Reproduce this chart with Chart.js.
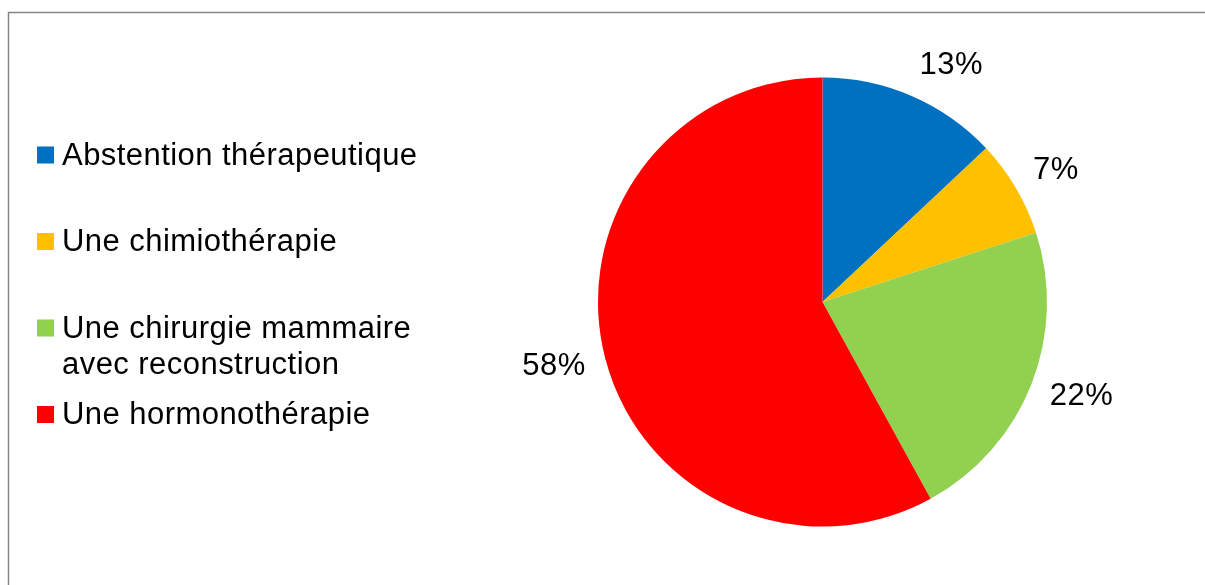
<!DOCTYPE html>
<html>
<head>
<meta charset="utf-8">
<script src="https://cdn.jsdelivr.net/npm/chart.js@4"></script>
<style>
  html, body { margin: 0; padding: 0; background: #fff; }
  #chart { display: block; }
</style>
</head>
<body>
<canvas id="chart" width="1205" height="585"></canvas>
<script>
const categories = [
  'Abstention thérapeutique',
  'Une chimiothérapie',
  ['Une chirurgie mammaire', 'avec reconstruction'],
  'Une hormonothérapie'
];
const shares = [13, 7, 22, 58];
const sliceColors = ['#0070C0', '#FFC000', '#92D050', '#FF0000'];

const FONT = '31px "Liberation Sans", Arial, sans-serif';
const SPACING = '0.45px';

// frame lines (top and left edge of the chart box)
const framePlugin = {
  id: 'frame',
  beforeDraw(chart) {
    const ctx = chart.ctx;
    ctx.save();
    ctx.strokeStyle = '#868686';
    ctx.lineWidth = 1.5;
    ctx.beginPath();
    ctx.moveTo(8.5, chart.height);
    ctx.lineTo(8.5, 12.5);
    ctx.lineTo(chart.width, 12.5);
    ctx.stroke();
    ctx.restore();
  }
};

// legend on the left, squares + wrapped text
const sideLegend = {
  id: 'sideLegend',
  afterDraw(chart, args, opts) {
    const ctx = chart.ctx;
    const ds = chart.data.datasets[0];
    ctx.save();
    ctx.font = FONT;
    ctx.letterSpacing = SPACING;
    ctx.textBaseline = 'middle';
    chart.data.labels.forEach((label, i) => {
      const y = opts.top + i * opts.step;
      ctx.fillStyle = ds.backgroundColor[i];
      ctx.fillRect(opts.x, y - opts.box / 2, opts.box, opts.box);
      ctx.fillStyle = '#000';
      const lines = Array.isArray(label) ? label : [label];
      lines.forEach((line, j) => {
        ctx.fillText(line, opts.x + opts.box + 8, y + 1 + j * opts.lineHeight);
      });
    });
    ctx.restore();
  }
};

// percentage labels just outside each slice
const outsideLabels = {
  id: 'outsideLabels',
  afterDatasetsDraw(chart, args, opts) {
    const ctx = chart.ctx;
    const meta = chart.getDatasetMeta(0);
    const data = chart.data.datasets[0].data;
    const total = data.reduce((a, b) => a + b, 0);
    ctx.save();
    ctx.font = FONT;
    ctx.letterSpacing = SPACING;
    ctx.fillStyle = '#000';
    ctx.textAlign = 'center';
    ctx.textBaseline = 'middle';
    meta.data.forEach((arc, i) => {
      const p = arc.getProps(['x', 'y', 'startAngle', 'endAngle', 'outerRadius'], true);
      const mid = (p.startAngle + p.endAngle) / 2;
      const text = Math.round(data[i] / total * 100) + '%';
      const w = ctx.measureText(text).width;
      const h = 26;
      const r = p.outerRadius + opts.gap;
      const cx = Math.cos(mid), cy = Math.sin(mid);
      const ax = p.x + r * cx;
      const ay = p.y + r * cy;
      // push the text box away from the pie edge
      ctx.fillText(text, ax + Math.sign(cx) * w / 2, ay + cy * h / 2);
    });
    ctx.restore();
  }
};

new Chart(document.getElementById('chart'), {
  type: 'pie',
  data: {
    labels: categories,
    datasets: [{
      data: shares,
      backgroundColor: sliceColors,
      borderWidth: 0
    }]
  },
  options: {
    responsive: false,
    animation: false,
    layout: { padding: { left: 598, right: 158, top: 77, bottom: 58 } },
    plugins: {
      legend: { display: false },
      tooltip: { enabled: false },
      sideLegend: { x: 37, box: 17, top: 155, step: 86.5, lineHeight: 36 },
      outsideLabels: { gap: 20 }
    }
  },
  plugins: [framePlugin, sideLegend, outsideLabels]
});
</script>
</body>
</html>
